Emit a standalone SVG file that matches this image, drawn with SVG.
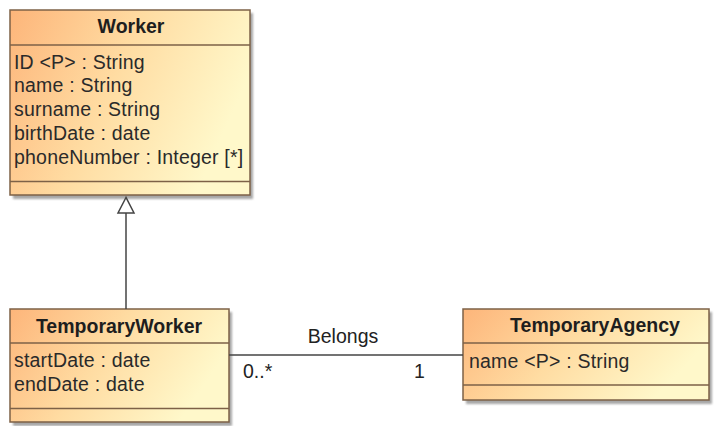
<svg xmlns="http://www.w3.org/2000/svg" width="715" height="426" viewBox="0 0 715 426">
<defs>
<linearGradient id="fillGrad" x1="0" y1="0" x2="1" y2="0.35">
<stop offset="0" stop-color="#fdb57a"/>
<stop offset="0.5" stop-color="#ffdca2"/>
<stop offset="1" stop-color="#fff8ca"/>
</linearGradient>
<filter id="shadow" x="-5%" y="-5%" width="115%" height="115%">
<feGaussianBlur stdDeviation="1.2"/>
</filter>
<style>
.shadow{fill:#8a8a8a;opacity:0.75;filter:url(#shadow);}
.box{fill:url(#fillGrad);stroke:#7d6147;stroke-width:1.5;}
.div{stroke:#7d6147;stroke-width:1.5;}
.title{font-family:"Liberation Sans",Arial,sans-serif;font-weight:bold;font-size:19.5px;fill:#1e1e1e;text-anchor:middle;}
.attr{font-family:"Liberation Sans",Arial,sans-serif;font-size:19.5px;letter-spacing:0.2px;fill:#2a2a2a;}
.lbl{font-family:"Liberation Sans",Arial,sans-serif;font-size:19.5px;fill:#222;}
.conn{stroke:#444;stroke-width:1.5;fill:none;}
</style>
</defs>
<rect width="715" height="426" fill="#ffffff"/>

<g id="Worker">
<rect class="shadow" x="13" y="13" width="240" height="186"/>
<rect class="box" x="10" y="10" width="240" height="185"/>
<line class="div" x1="10" y1="45" x2="250" y2="45"/>
<line class="div" x1="10" y1="181.5" x2="250" y2="181.5"/>
<text class="title" x="131" y="32.5">Worker</text>
<text class="attr" x="14" y="68.5">ID &lt;P&gt; : String</text>
<text class="attr" x="14" y="92.3">name : String</text>
<text class="attr" x="14" y="116.1">surname : String</text>
<text class="attr" x="14" y="139.9">birthDate : date</text>
<text class="attr" x="14" y="163.7">phoneNumber : Integer [*]</text>
</g>

<g id="TemporaryWorker">
<rect class="shadow" x="13" y="312" width="219" height="114"/>
<rect class="box" x="10" y="309" width="219" height="113"/>
<line class="div" x1="10" y1="343" x2="229" y2="343"/>
<line class="div" x1="10" y1="408.5" x2="229" y2="408.5"/>
<text class="title" x="119" y="332.5">TemporaryWorker</text>
<text class="attr" x="14" y="367.3">startDate : date</text>
<text class="attr" x="14" y="391">endDate : date</text>
</g>

<g id="TemporaryAgency">
<rect class="shadow" x="466" y="312" width="246" height="92"/>
<rect class="box" x="463" y="309" width="246" height="91"/>
<line class="div" x1="463" y1="343" x2="709" y2="343"/>
<line class="div" x1="463" y1="385" x2="709" y2="385"/>
<text class="title" x="595" y="331.7">TemporaryAgency</text>
<text class="attr" x="469" y="368.3">name &lt;P&gt; : String</text>
</g>

<g id="connectors">
<line class="conn" x1="126" y1="309" x2="126" y2="213"/>
<polygon points="126,197.5 118,213 134,213" fill="#ffffff" stroke="#444" stroke-width="1.5"/>
<line class="conn" x1="229" y1="355" x2="463" y2="355"/>
<text class="lbl" x="343" y="342.7" text-anchor="middle">Belongs</text>
<text class="lbl" x="243" y="378.3">0..*</text>
<text class="lbl" x="414" y="378.3">1</text>
</g>
</svg>
